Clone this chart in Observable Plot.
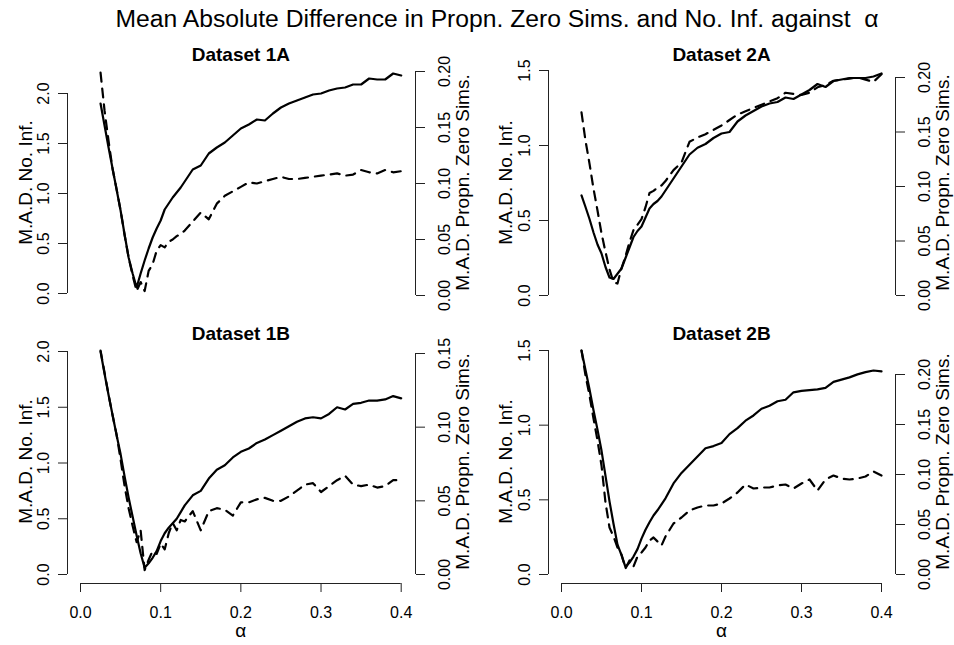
<!DOCTYPE html>
<html>
<head>
<meta charset="utf-8">
<script src="https://cdn.jsdelivr.net/npm/d3@7"></script>
<script src="https://cdn.jsdelivr.net/npm/@observablehq/plot@0.6"></script>
<style>
  body { margin: 0; background: #fff; }
  #chart { position: relative; width: 954px; height: 645px; font-family: "Liberation Sans", Arial, Helvetica, sans-serif; overflow: hidden; }
  #title { position: absolute; left: 40px; width: 914px; top: 7px; text-align: center; font-size: 24.7px; line-height: 24px; color: #000; white-space: nowrap; }
  .layer { position: absolute; }
</style>
</head>
<body>
<div id="chart"><div id="title">Mean Absolute Difference in Propn. Zero Sims. and No. Inf. against&nbsp; α</div></div>
<script>
// ---------- data ----------
const alpha = [0.025,0.03,0.035,0.04,0.045,0.05,0.055,0.06,0.065,0.07,0.075,0.08,0.085,0.09,0.095,0.1,0.105,0.11,0.115,0.12,0.125,
               0.13,0.14,0.15,0.16,0.17,0.18,0.19,0.2,0.21,0.22,0.23,0.24,0.25,0.26,0.27,0.28,0.29,0.3,0.31,0.32,0.33,0.34,0.35,0.36,0.37,0.38,0.39,0.4];

// M.A.D. No. Inf. (solid, left axis)
const noInf1A = [1.90,1.68,1.46,1.25,1.04,0.83,0.59,0.36,0.20,0.06,0.20,0.33,0.45,0.56,0.65,0.73,0.84,0.90,0.96,1.01,1.06,
                 1.12,1.24,1.28,1.40,1.46,1.51,1.58,1.65,1.69,1.74,1.73,1.80,1.86,1.90,1.93,1.96,1.99,2.00,2.03,2.05,2.06,2.09,2.09,2.15,2.14,2.14,2.20,2.18];
const noInf2A = [0.667,0.59,0.51,0.42,0.34,0.28,0.19,0.12,0.11,0.145,0.18,0.25,0.32,0.39,0.43,0.46,0.52,0.58,0.61,0.63,0.66,
                 0.70,0.78,0.86,0.94,0.985,1.01,1.05,1.08,1.09,1.16,1.20,1.23,1.26,1.28,1.29,1.32,1.31,1.34,1.37,1.41,1.39,1.43,1.44,1.45,1.45,1.45,1.46,1.48];
const noInf1B = [2.00,1.80,1.61,1.43,1.25,1.08,0.88,0.69,0.52,0.35,0.19,0.06,0.10,0.15,0.21,0.30,0.37,0.42,0.46,0.50,0.56,
                 0.62,0.71,0.75,0.86,0.94,0.98,1.05,1.10,1.13,1.18,1.21,1.25,1.29,1.33,1.37,1.40,1.41,1.40,1.44,1.50,1.48,1.53,1.54,1.56,1.56,1.57,1.60,1.58];
const noInf2B = [1.50,1.37,1.24,1.10,0.97,0.83,0.66,0.49,0.34,0.20,0.13,0.05,0.08,0.12,0.17,0.24,0.30,0.35,0.395,0.43,0.47,
                 0.51,0.61,0.68,0.735,0.79,0.845,0.86,0.88,0.94,0.98,1.03,1.065,1.11,1.13,1.16,1.17,1.22,1.23,1.235,1.24,1.25,1.29,1.305,1.32,1.34,1.355,1.366,1.36];

// M.A.D. Propn. Zero Sims. (dashed, right axis)
const zero1A = [0.199,0.165,0.138,0.113,0.095,0.076,0.054,0.034,0.018,0.004,0.012,0.004,0.022,0.028,0.040,0.045,0.043,0.048,0.050,0.053,0.055,
                0.058,0.066,0.074,0.068,0.082,0.089,0.093,0.097,0.101,0.100,0.102,0.104,0.106,0.104,0.104,0.105,0.106,0.107,0.108,0.109,0.107,0.108,0.112,0.110,0.109,0.112,0.110,0.111];
const zero2A = [0.168,0.142,0.121,0.098,0.078,0.057,0.040,0.024,0.012,0.011,0.025,0.036,0.049,0.060,0.065,0.070,0.081,0.094,0.096,0.099,0.101,
                0.105,0.115,0.122,0.141,0.145,0.148,0.152,0.156,0.161,0.166,0.169,0.172,0.175,0.178,0.181,0.186,0.185,0.184,0.186,0.191,0.193,0.197,0.198,0.199,0.200,0.198,0.196,0.203];
const zero1B = [0.152,0.137,0.122,0.108,0.095,0.078,0.060,0.045,0.033,0.022,0.030,0.003,0.010,0.016,0.014,0.021,0.017,0.028,0.035,0.030,0.037,
                0.036,0.043,0.030,0.043,0.045,0.044,0.040,0.049,0.049,0.051,0.052,0.050,0.050,0.053,0.057,0.061,0.062,0.056,0.060,0.064,0.067,0.061,0.060,0.061,0.059,0.060,0.064,0.064];
const zero2B = [0.224,0.199,0.179,0.156,0.134,0.109,0.072,0.047,0.038,0.027,0.020,0.006,0.014,0.008,0.018,0.022,0.027,0.034,0.037,0.033,0.029,
                0.038,0.051,0.057,0.064,0.067,0.069,0.069,0.071,0.076,0.082,0.090,0.086,0.087,0.087,0.089,0.090,0.086,0.091,0.095,0.084,0.095,0.099,0.096,0.095,0.096,0.098,0.103,0.099];

// tick labels
const leftTicks1 = [0, 0.5, 1, 1.5, 2];
const leftTicks2 = [0, 0.5, 1, 1.5];
const rightTicks20 = [0, 0.05, 0.1, 0.15, 0.2];
const rightTicks15 = [0, 0.05, 0.1, 0.15];
const xTicks = [0, 0.1, 0.2, 0.3, 0.4];
const panelTitles = ["Dataset 1A", "Dataset 2A", "Dataset 1B", "Dataset 2B"];
const leftTitle = "M.A.D. No. Inf.";
const rightTitle = "M.A.D. Propn. Zero Sims.";
const xTitle = "α";

// ---------- layout (page pixels) ----------
const FONT = "'Liberation Sans', Arial, Helvetica, sans-serif";
const AX = "#222";
const TICKFS = 16;
const cols = [
  {left: 0,   w: 477, x: [80, 400.7], axL: 67,  axR: 415, labL: 43,  labR: 444, ttlL: 25,  ttlR: 462},
  {left: 477, w: 477, x: [561, 881],  axL: 548, axR: 895, labL: 524, labR: 924, ttlL: 505, ttlR: 942}
];
const rows = [
  {top: 30,  h: 290, titleY: 54,  labY: 182, xaxis: false},
  {top: 320, h: 325, titleY: 333, labY: 461, xaxis: true, axB: 583, xLabY: 612, xTtlY: 630}
];
const panels = [
  {title: panelTitles[0], c: 0, r: 0, noInf: noInf1A, zero: zero1A, lt: leftTicks1, rt: rightTicks20, yl: [293, 93], yr: [295, 71]},
  {title: panelTitles[1], c: 1, r: 0, noInf: noInf2A, zero: zero2A, lt: leftTicks2, rt: rightTicks20, yl: [295, 70], yr: [295, 77]},
  {title: panelTitles[2], c: 0, r: 1, noInf: noInf1B, zero: zero1B, lt: leftTicks1, rt: rightTicks15, yl: [574, 351], yr: [574, 353]},
  {title: panelTitles[3], c: 1, r: 1, noInf: noInf2B, zero: zero2B, lt: leftTicks2, rt: rightTicks20, yl: [574, 350], yr: [574, 374]}
];

function layer(p, side) {
  const col = cols[p.c], row = rows[p.r];
  const isL = side === "left";
  const ticks = isL ? p.lt : p.rt;
  const yp = isL ? p.yl : p.yr;
  const vals = isL ? p.noInf : p.zero;
  const data = alpha.map((a, i) => ({a, v: vals[i]}));
  const mL = col.x[0] - col.left, mR = col.left + col.w - col.x[1];
  const mT = yp[1] - row.top, mB = row.top + row.h - yp[0];
  const midY = (yp[0] + yp[1]) / 2;
  const fmt = d3.format(isL ? ".1f" : ".2f");
  const edge = isL ? col.x[0] : col.x[1];
  const axDx = (isL ? col.axL : col.axR) - edge;
  const labDx = (isL ? col.labL : col.labR) - edge;
  const ttlDx = (isL ? col.ttlL : col.ttlR) - edge;

  const marks = [
    Plot.ruleX([isL ? xTicks[0] : xTicks[xTicks.length - 1]], {x: d => d, y1: ticks[0], y2: ticks[ticks.length - 1], dx: axDx, stroke: AX, strokeWidth: 1}),
    Plot.axisY({anchor: side, ticks, tickSize: 9, tickFormat: () => "", dx: axDx, label: null, stroke: AX}),
    Plot.text(ticks, {y: d => d, text: d => fmt(d), frameAnchor: side, dx: labDx, rotate: -90, textAnchor: "middle", lineAnchor: "middle", fontSize: TICKFS, fontFamily: FONT, fill: "#000"}),
    Plot.text([isL ? leftTitle : rightTitle], {frameAnchor: side, dx: ttlDx, dy: row.labY - midY, rotate: -90, textAnchor: "middle", lineAnchor: "middle", fontSize: 19, fontFamily: FONT, fill: "#000"}),
    Plot.line(data, {x: "a", y: "v", stroke: "#000", strokeWidth: 2.2, strokeLinejoin: "round", strokeDasharray: isL ? null : "9,7"})
  ];
  if (isL) {
    marks.push(Plot.text([p.title], {frameAnchor: "top", dy: row.titleY - yp[1], fontWeight: "bold", fontSize: 19, fontFamily: FONT, lineAnchor: "middle", fill: "#000"}));
    if (row.xaxis) {
      const dyAx = row.axB - yp[0];
      marks.push(
        Plot.ruleY([ticks[0]], {y: d => d, x1: xTicks[0], x2: xTicks[xTicks.length - 1], dy: dyAx, stroke: AX, strokeWidth: 1}),
        Plot.axisX({anchor: "bottom", ticks: xTicks, tickSize: 9, tickFormat: () => "", dy: dyAx, label: null, stroke: AX}),
        Plot.text(xTicks, {x: d => d, text: d => d3.format(".1f")(d), frameAnchor: "bottom", dy: row.xLabY - yp[0], lineAnchor: "middle", fontSize: TICKFS, fontFamily: FONT, fill: "#000"}),
        Plot.text([xTitle], {frameAnchor: "bottom", dy: row.xTtlY - yp[0], lineAnchor: "middle", fontSize: 19, fontFamily: FONT, fill: "#000"})
      );
    }
  }
  const svg = Plot.plot({
    width: col.w, height: row.h,
    marginLeft: mL, marginRight: mR, marginTop: mT, marginBottom: mB,
    x: {domain: [xTicks[0], xTicks[xTicks.length - 1]], axis: null},
    y: {domain: [ticks[0], ticks[ticks.length - 1]], axis: null},
    style: {background: "transparent", overflow: "visible", fontFamily: FONT, color: "#000"},
    marks
  });
  svg.classList.add("layer");
  svg.style.left = col.left + "px";
  svg.style.top = row.top + "px";
  svg.style.maxWidth = "none";
  return svg;
}

const chart = document.getElementById("chart");
for (const p of panels) {
  chart.appendChild(layer(p, "left"));
  chart.appendChild(layer(p, "right"));
}
</script>
</body>
</html>
